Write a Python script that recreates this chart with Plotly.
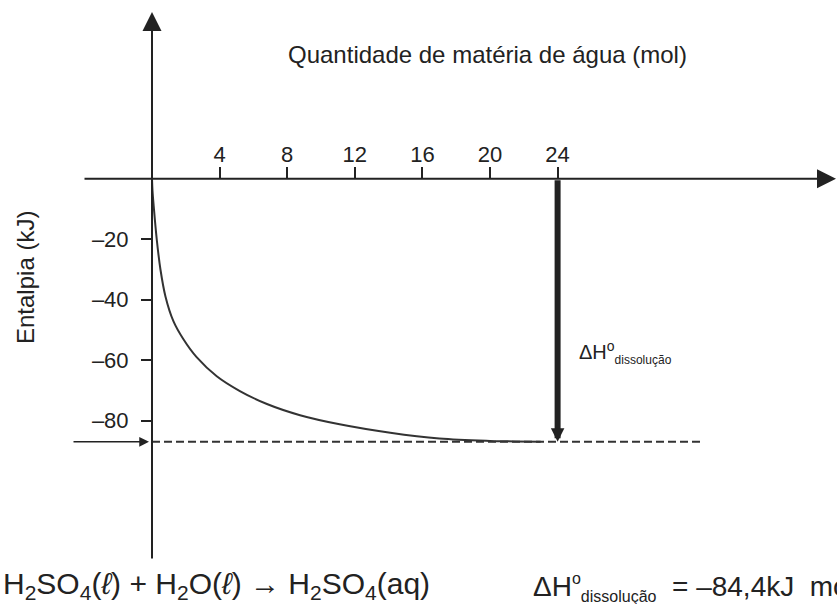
import plotly.graph_objects as go

# ---------------- data ----------------
curve_x = [0, 0.03, 0.1, 0.28, 0.5, 0.8, 1.26, 1.85, 2.64, 3.83, 5.2, 6.8, 8.76, 11.1, 14.1, 17, 20, 23]
curve_y = [0, -4, -9, -20, -30, -39, -47, -53, -59, -65.3, -70.2, -74.5, -78.2, -81.2, -84, -85.9, -86.7, -87]
level_x = [0, 32.6]
level_y = [-87, -87]
dissolution_x = 24
x_tick_vals = [4, 8, 12, 16, 20, 24]
x_tick_text = ["4", "8", "12", "16", "20", "24"]
y_tick_vals = [-20, -40, -60, -80]
y_tick_text = ["–20", "–40", "–60", "–80"]
x_title = "Quantidade de matéria de água (mol)"
y_title = "Entalpia (kJ)"
dh_label = 'ΔH<sup>o</sup><sub><span style="font-size:12px">dissolução</span></sub>'
equation = ("H<sub>2</sub>SO<sub>4</sub>(<i>ℓ</i>) + H<sub>2</sub>O(<i>ℓ</i>) → "
            "H<sub>2</sub>SO<sub>4</sub>(aq)")
dh_text = ('ΔH<sup><span style="font-size:16px">o</span></sup>'
           '<sub><span style="font-size:16px">dissolução</span></sub>\u00a0 = –84,4kJ\u00a0 mol<sup>–1</sup>')

# ---------------- geometry ----------------
W, H = 837, 604
X0PX, XPU = 152, 16.9     # pixel of x=0, pixels per unit
Y0PX, YPU = 178.8, 3.023  # pixel of y=0, pixels per unit
def xv(px):
    return (px - X0PX) / XPU
def yv(py):
    return (Y0PX - py) / YPU

x_range = [xv(0), xv(W)]
y_range = [yv(H), yv(0)]

INK = "#222222"
FONT = "Liberation Sans, Arial, Helvetica, sans-serif"

fig = go.Figure()
fig.add_trace(go.Scatter(x=curve_x, y=curve_y, mode="lines",
                         line=dict(color="#333333", width=2, shape="spline", smoothing=1.0),
                         hoverinfo="skip", showlegend=False))
fig.add_trace(go.Scatter(x=level_x, y=level_y, mode="lines",
                         line=dict(color="#333333", width=2, dash="8px,4px"),
                         hoverinfo="skip", showlegend=False))

ann = []
# axes lines with arrowheads
ann.append(dict(x=xv(836), y=0, ax=xv(83), ay=0, xref="x", yref="y", axref="x", ayref="y",
                text="", showarrow=True, arrowhead=2, arrowsize=1.9, arrowwidth=2, arrowcolor=INK))
ann.append(dict(x=0, y=yv(12), ax=0, ay=yv(560), xref="x", yref="y", axref="x", ayref="y",
                text="", showarrow=True, arrowhead=2, arrowsize=1.9, arrowwidth=2, arrowcolor=INK))
# thick dissolution arrow
ann.append(dict(x=dissolution_x, y=level_y[0], ax=dissolution_x, ay=0, xref="x", yref="y",
                axref="x", ayref="y", text="", showarrow=True, arrowhead=2, arrowsize=0.45,
                arrowwidth=6, arrowcolor=INK))
# small arrow pointing to the level
ann.append(dict(x=xv(149), y=level_y[0], ax=xv(72), ay=level_y[0], xref="x", yref="y",
                axref="x", ayref="y", text="", showarrow=True, arrowhead=2, arrowsize=1.3,
                arrowwidth=1.5, arrowcolor=INK))
# texts
ann.append(dict(x=487 / W, y=1 - 55 / H, xref="paper", yref="paper", text=x_title, showarrow=False,
                font=dict(family=FONT, size=24, color=INK), xanchor="center", yanchor="middle"))
ann.append(dict(x=25 / W, y=1 - 278 / H, xref="paper", yref="paper", text=y_title, showarrow=False,
                textangle=-90, font=dict(family=FONT, size=24, color=INK), xanchor="center", yanchor="middle"))
ann.append(dict(x=577 / W, y=1 - 352 / H, xref="paper", yref="paper", text=dh_label, showarrow=False,
                font=dict(family=FONT, size=20, color=INK), xanchor="left", yanchor="middle"))
ann.append(dict(x=1 / W, y=1 - 585 / H, xref="paper", yref="paper", text=equation, showarrow=False,
                font=dict(family=FONT, size=30, color=INK), xanchor="left", yanchor="middle"))
ann.append(dict(x=531 / W, y=1 - 585 / H, xref="paper", yref="paper", text=dh_text, showarrow=False,
                font=dict(family=FONT, size=28, color=INK), xanchor="left", yanchor="middle"))

fig.update_layout(
    width=W, height=H, margin=dict(l=0, r=0, t=0, b=0),
    paper_bgcolor="white", plot_bgcolor="white",
    annotations=ann,
    xaxis=dict(range=x_range, domain=[0, 1], anchor="free", position=1 - Y0PX / H, side="top",
               showline=False, showgrid=False, zeroline=False, ticks="outside", ticklen=12,
               tickwidth=2, tickcolor=INK, tickvals=x_tick_vals, ticktext=x_tick_text,
               ticklabelstandoff=-4,
               tickfont=dict(family=FONT, size=22, color=INK), fixedrange=True),
    yaxis=dict(range=y_range, domain=[0, 1], anchor="free", position=X0PX / W, side="left",
               showline=False, showgrid=False, zeroline=False, ticks="outside", ticklen=11,
               tickwidth=2, tickcolor=INK, tickvals=y_tick_vals, ticktext=y_tick_text,
               ticklabelstandoff=8,
               tickfont=dict(family=FONT, size=22, color=INK), fixedrange=True),
    showlegend=False,
)

fig.write_html("out.html", config={"displayModeBar": False},
               post_script="document.body.style.margin='0px';document.body.style.overflow='hidden';")
